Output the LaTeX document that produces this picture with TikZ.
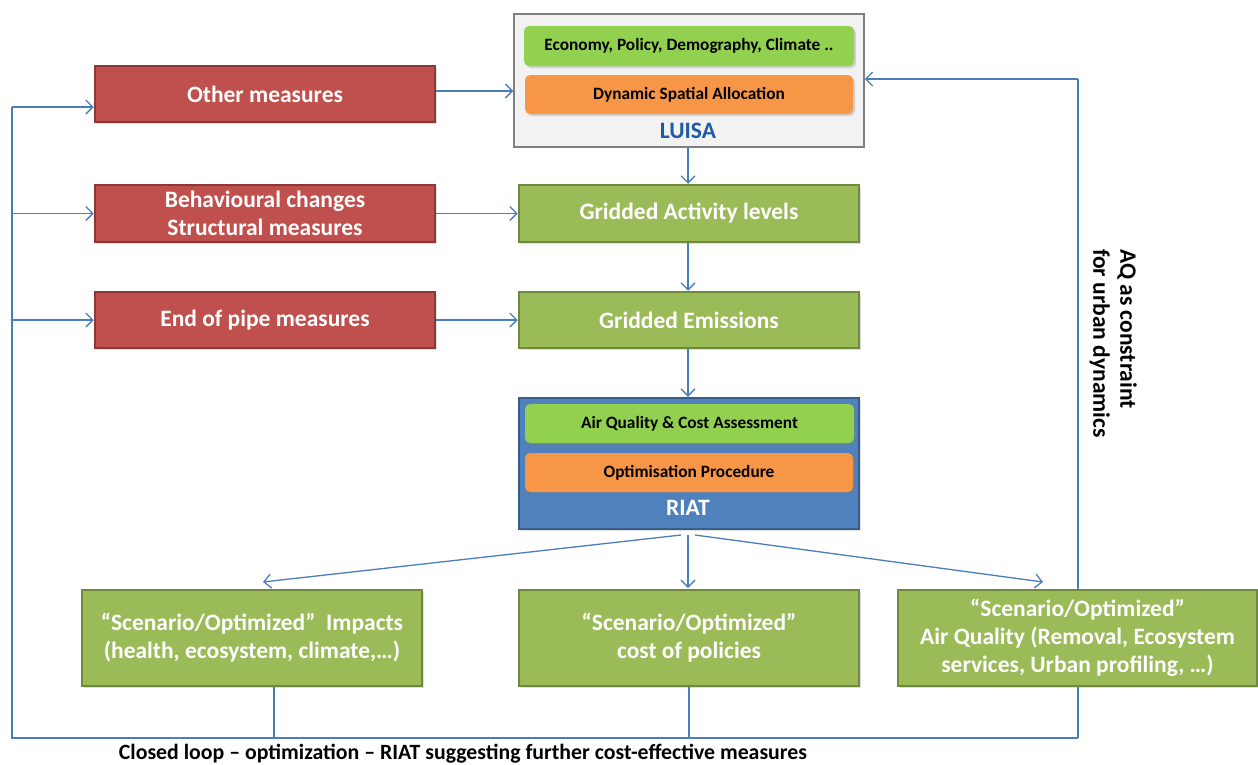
\documentclass[tikz,border=0pt]{standalone}
\usepackage{fontspec}
\setmainfont{Carlito}
\usetikzlibrary{arrows.meta,shadows,backgrounds}
\definecolor{redfill}{HTML}{C0504D}
\definecolor{redline}{HTML}{8C3836}
\definecolor{grnfill}{HTML}{9BBB59}
\definecolor{grnline}{HTML}{71893F}
\definecolor{bluefill}{HTML}{4F81BD}
\definecolor{blueline}{HTML}{385D8A}
\definecolor{lightgrn}{HTML}{92D050}
\definecolor{orng}{HTML}{F79646}
\definecolor{luisablue}{HTML}{1F5AA6}
\definecolor{conn}{HTML}{4A7EBB}
\definecolor{greyfill}{HTML}{F2F2F2}
\definecolor{greyline}{HTML}{7F7F7F}
\tikzset{
  base/.style={rectangle, line width=2.5pt, text=white, font=\fontsize{23.5}{28}\selectfont\bfseries, align=center, inner sep=0pt,
    drop shadow={opacity=0.25, shadow xshift=2pt, shadow yshift=-2pt}},
  redbox/.style={base, fill=redfill, draw=redline, minimum width=340pt, minimum height=56pt},
  grnbox/.style={base, fill=grnfill, draw=grnline},
  inner/.style={rectangle, rounded corners=5pt, draw=none, font=\fontsize{17.3}{20}\selectfont\bfseries, text=black, inner sep=0pt,
    drop shadow={opacity=0.3, shadow xshift=2pt, shadow yshift=-2pt}},
  conline/.style={draw=conn, line width=1.3pt},
  arr/.style={conline, -{Straight Barb[length=7pt,width=14pt,line width=1.3pt]}},
}
\begin{document}
\begin{tikzpicture}[x=1pt,y=-1pt]
\useasboundingbox (0,0) rectangle (1258,764);
% LUISA
\node[rectangle, fill=greyfill, draw=greyline, line width=1.5pt, minimum width=350pt, minimum height=133pt, inner sep=0pt] (luisa) at (689,80.5) {};
\node[inner, fill=lightgrn, minimum width=330pt, minimum height=40pt] (eco) at (689,46) {Economy, Policy, Demography, Climate ..};
\node[inner, fill=orng, minimum width=328pt, minimum height=39pt] (dsa) at (689,94.5) {Dynamic Spatial Allocation};
\node[font=\fontsize{23.5}{28}\selectfont\bfseries, text=luisablue] (luisalbl) at (688,131) {LUISA};
% red boxes
\node[redbox] (om) at (265,94) {Other measures};
\node[redbox, minimum height=57pt] (beh) at (265,213.5) {Behavioural changes\\Structural measures};
\node[redbox] (eop) at (265,320) {End of pipe measures};
% green middle
\node[grnbox, minimum width=340pt, minimum height=57pt] (gal) at (689,213.5) {Gridded Activity levels};
\node[grnbox, minimum width=340pt, minimum height=56pt] (gem) at (689,320) {Gridded Emissions};
% RIAT
\node[base, fill=bluefill, draw=blueline, minimum width=340pt, minimum height=131pt] (riat) at (689,463.5) {};
\node[inner, fill=lightgrn, minimum width=329pt, minimum height=39pt] (aqc) at (689.5,423.5) {Air Quality \& Cost Assessment};
\node[inner, fill=orng, minimum width=328pt, minimum height=39pt] (opt) at (689,472.5) {Optimisation Procedure};
\node[font=\fontsize{23.5}{28}\selectfont\bfseries, text=white] (riatlbl) at (688,508) {RIAT};
% bottom boxes
\node[grnbox, minimum width=340pt, minimum height=96pt] (imp) at (252,638) {“Scenario/Optimized”~~Impacts\\(health, ecosystem, climate,…)};
\node[grnbox, minimum width=340pt, minimum height=96pt] (cost) at (689,638) {“Scenario/Optimized”\\cost of policies};
\node[grnbox, minimum width=359pt, minimum height=96pt] (aq) at (1077.5,638) {“Scenario/Optimized”\\Air Quality (Removal, Ecosystem\\services, Urban profiling, …)};
% texts
\node[rotate=-90, align=left, font=\fontsize{23.5}{27}\selectfont\bfseries, anchor=north west, inner sep=0pt] (aqtxt) at (1137,249) {AQ as constraint\\for urban dynamics};
\node[font=\fontsize{21.8}{26}\selectfont\bfseries, inner sep=0pt] (cltxt) at (463,754) {Closed loop – optimization – RIAT suggesting further cost-effective measures};
% coordinates
\coordinate (lt) at (12,107);
\coordinate (lb) at (12,738);
\coordinate (rb) at (1078,738);
\coordinate (rt) at (1078,79);
% connectors
\begin{scope}[on background layer]
\draw[conline] (rb) -- (rt);
\end{scope}
\draw[arr] (rt) -- (luisa.east |- rt);
\draw[conline] (imp.south -| 274,0) -- (274,738);
\draw[conline] (cost.south) -- (cost.south |- rb);
\draw[conline] (rb) -- (lb) -- (lt);
\draw[arr] (lt) -- (om.west |- lt);
\draw[arr] (12,213.5) -- (beh.west);
\draw[arr] (12,320) -- (eop.west);
\draw[arr] (om.east |- 0,91) -- (luisa.west |- 0,91);
\draw[arr] (beh.east) -- (gal.west);
\draw[arr] (eop.east) -- (gem.west);
\draw[arr] (luisa.south -| 688,0) -- (gal.north -| 688,0);
\draw[arr] (gal.south -| 688,0) -- (gem.north -| 688,0);
\draw[arr] (gem.south -| 688,0) -- (riat.north -| 688,0);
\draw[arr] (681,535) -- (263,582);
\draw[arr] (688,535) -- (688,588);
\draw[arr] (695,535) -- (1043,582);
\end{tikzpicture}
\end{document}
